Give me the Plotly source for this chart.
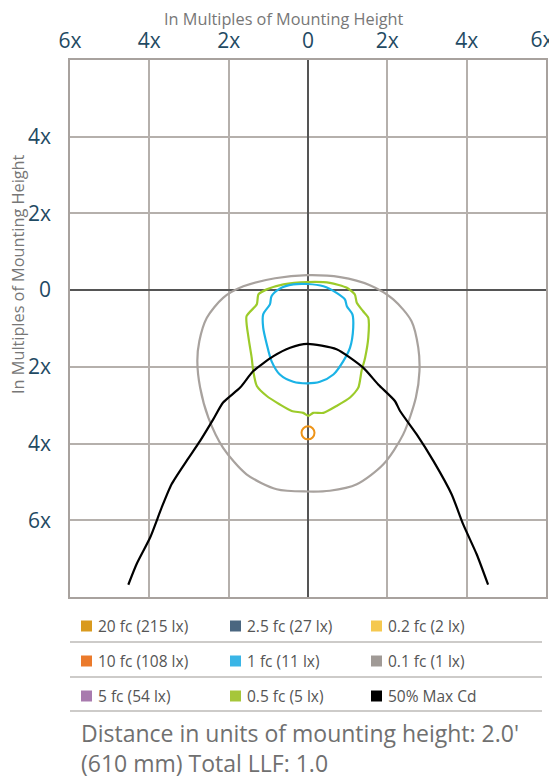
import plotly.graph_objects as go

# ---------------- data (units of mounting height) ----------------
gray_x = [-0.02, 0.81, 1.56, 2.15, 2.61, 2.78, 2.81, 2.72, 2.40, 1.90, 1.23, 0.55, -0.02,
          -0.79, -1.55, -2.14, -2.51, -2.72, -2.79, -2.74, -2.55, -2.14, -1.63, -0.83, -0.02]
gray_y = [0.39, 0.34, 0.13, -0.24, -0.81, -1.50, -2.11, -2.80, -3.76, -4.54, -5.06, -5.23, -5.25,
          -5.19, -4.80, -4.11, -3.33, -2.54, -1.85, -1.33, -0.72, -0.20, 0.10, 0.31, 0.39]

green_x = [-0.02, 0.55, 0.98, 1.18, 1.23, 1.39, 1.52, 1.52, 1.44, 1.35, 1.27, 1.06, 0.72, 0.39,
           0.13, 0.01, -0.12, -0.41, -0.71, -1.04, -1.29, -1.38, -1.42, -1.50, -1.55, -1.29,
           -1.25, -1.04, -0.62, -0.02]
green_y = [0.21, 0.19, 0.06, -0.11, -0.33, -0.55, -0.72, -1.24, -1.76, -2.11, -2.54, -2.80,
           -3.02, -3.20, -3.20, -3.28, -3.20, -3.15, -2.98, -2.76, -2.50, -2.11, -1.76, -1.24,
           -0.68, -0.37, -0.11, 0.02, 0.15, 0.21]

blue_x = [-0.02, 0.39, 0.72, 0.93, 0.98, 1.12, 1.14, 1.06, 0.89, 0.64, 0.30, -0.02, -0.37,
          -0.71, -0.92, -1.04, -1.13, -1.13, -0.96, -0.92, -0.71, -0.37, -0.02]
blue_y = [0.16, 0.10, -0.07, -0.24, -0.42, -0.63, -0.98, -1.50, -1.85, -2.20, -2.39, -2.43,
          -2.39, -2.20, -1.85, -1.41, -0.98, -0.63, -0.37, -0.16, 0.04, 0.15, 0.16]

cd_x = [-4.53, -4.32, -3.98, -3.69, -3.44, -3.06, -2.72, -2.39, -2.14, -1.71, -1.38, -0.87,
        -0.45, -0.02, 0.72, 1.39, 1.77, 2.19, 2.32, 2.74, 3.16, 3.62, 3.91, 4.25, 4.54]
cd_y = [-7.68, -7.14, -6.45, -5.67, -5.06, -4.45, -3.93, -3.37, -2.93, -2.54, -2.11, -1.72,
        -1.50, -1.40, -1.54, -2.02, -2.46, -2.89, -3.15, -3.76, -4.45, -5.32, -6.10, -6.88, -7.68]

max_x = [0.0]
max_y = [-3.72]

x_tickvals = [-6, -4, -2, 0, 2, 4, 6]
x_ticktext = ["6x", "4x", "2x", "0", "2x", "4x", "6x"]
y_tickvals = [4, 2, 0, -2, -4, -6]
y_ticktext = ["4x", "2x", "0", "2x", "4x", "6x"]

legend_labels = [
    ["20 fc (215 lx)", "2.5 fc (27 lx)", "0.2 fc (2 lx)"],
    ["10 fc (108 lx)", "1 fc (11 lx)", "0.1 fc (1 lx)"],
    ["5 fc (54 lx)", "0.5 fc (5 lx)", "50% Max Cd"],
]
legend_colors = [
    ["#D99A1E", "#4A6680", "#F5C84F"],
    ["#EB7A2B", "#3AB5E6", "#A09A96"],
    ["#A87AAE", "#A6C63A", "#000000"],
]
footer = "Distance in units of mounting height: 2.0'<br>(610 mm) Total LLF: 1.0"

# ---------------- figure ----------------
FONT = "Open Sans"
OFF = 8  # page body margin
W, H = 557 - OFF, 778 - OFF
L = 70 - OFF
T = 60 - OFF
R = W - (546 - OFF)
B = H - (597 - OFF)
TICKFONT = dict(size=21, color="#1F4A63", family=FONT)

fig = go.Figure()
fig.add_trace(go.Scatter(x=gray_x, y=gray_y, mode="lines",
                         line=dict(color="#A8A29E", width=2.2, shape="spline", smoothing=0.8)))
fig.add_trace(go.Scatter(x=green_x, y=green_y, mode="lines",
                         line=dict(color="#9CCB2A", width=2.2, shape="spline", smoothing=0.6)))
fig.add_trace(go.Scatter(x=blue_x, y=blue_y, mode="lines",
                         line=dict(color="#1BB3E6", width=2.2, shape="spline", smoothing=0.8)))
fig.add_trace(go.Scatter(x=cd_x, y=cd_y, mode="lines",
                         line=dict(color="#000000", width=2.2, shape="spline", smoothing=0.6)))
fig.add_trace(go.Scatter(x=max_x, y=max_y, mode="markers", xaxis="x2",
                         marker=dict(symbol="circle-open", size=13, color="#EE9418",
                                     line=dict(width=2, color="#EE9418"))))

fig.update_layout(
    width=W, height=H,
    margin=dict(l=L, r=R, t=T, b=B, pad=0),
    paper_bgcolor="white", plot_bgcolor="white",
    showlegend=False,
    font=dict(family=FONT, color="#555555"),
    xaxis=dict(
        range=[-6, 6], side="top", tickvals=x_tickvals[:-1], ticktext=x_ticktext[:-1],
        tickfont=TICKFONT,
        showgrid=True, gridcolor="#B5B0AC", gridwidth=1.5,
        zeroline=True, zerolinecolor="#555555", zerolinewidth=1.5,
        showline=True, mirror=True, linecolor="#A8A29E", linewidth=1.5,
        ticks="", ticklabelstandoff=2, ticklabeloverflow="allow",
        fixedrange=True, automargin=False,
    ),
    xaxis2=dict(
        matches="x", overlaying="x", anchor="y", side="top",
        tickvals=x_tickvals[-1:], ticktext=x_ticktext[-1:], tickfont=TICKFONT,
        showgrid=False, zeroline=False, showline=False,
        ticks="", ticklabelstandoff=8, ticklabelshift=-4, ticklabeloverflow="allow",
        fixedrange=True, automargin=False,
    ),
    yaxis=dict(
        range=[-8, 6], tickvals=y_tickvals, ticktext=y_ticktext,
        tickfont=TICKFONT,
        showgrid=True, gridcolor="#B5B0AC", gridwidth=1.5,
        zeroline=True, zerolinecolor="#555555", zerolinewidth=1.5,
        showline=True, mirror=True, linecolor="#A8A29E", linewidth=1.5,
        ticks="", ticklabelstandoff=13, ticklabeloverflow="allow",
        fixedrange=True, automargin=False,
    ),
)

def px_x(px):
    return (px - OFF - L) / (W - L - R)

def px_y(py):
    return (H - B - (py - OFF)) / (H - T - B)

annotations = [
    dict(text="In Multiples of Mounting Height", x=px_x(284), y=px_y(18.5), xref="paper", yref="paper",
         showarrow=False, font=dict(size=16.3, color="#777777", family=FONT),
         xanchor="center", yanchor="middle", borderpad=0),
    dict(text="In Multiples of Mounting Height", x=px_x(18), y=px_y(274), xref="paper", yref="paper",
         showarrow=False, textangle=-90, font=dict(size=16.3, color="#777777", family=FONT),
         xanchor="center", yanchor="middle", borderpad=0),
    dict(text=footer, x=px_x(79), y=px_y(748), xref="paper", yref="paper", showarrow=False,
         align="left", xanchor="left", yanchor="middle",
         font=dict(size=23, color="#707070", family=FONT)),
]
shapes = []
col_sq = [81, 230, 371]
row_y = [626, 661, 696]
sep_y = [642, 677, 711]
for r in range(3):
    for c in range(3):
        cy = row_y[r]
        x0 = col_sq[c]
        shapes.append(dict(type="rect", xref="paper", yref="paper",
                           x0=px_x(x0), x1=px_x(x0 + 11), y0=px_y(cy + 5.5), y1=px_y(cy - 5.5),
                           fillcolor=legend_colors[r][c], line=dict(width=0)))
        annotations.append(dict(text=legend_labels[r][c], x=px_x(x0 + 15), y=px_y(cy),
                                xref="paper", yref="paper", showarrow=False,
                                xanchor="left", yanchor="middle",
                                font=dict(size=15.5, color="#555555", family=FONT)))
    shapes.append(dict(type="line", xref="paper", yref="paper",
                       x0=px_x(70), x1=px_x(542), y0=px_y(sep_y[r]), y1=px_y(sep_y[r]),
                       line=dict(color="#BDBAB7", width=1.5)))

fig.update_layout(annotations=annotations, shapes=shapes)
fig.write_html("out.html")
